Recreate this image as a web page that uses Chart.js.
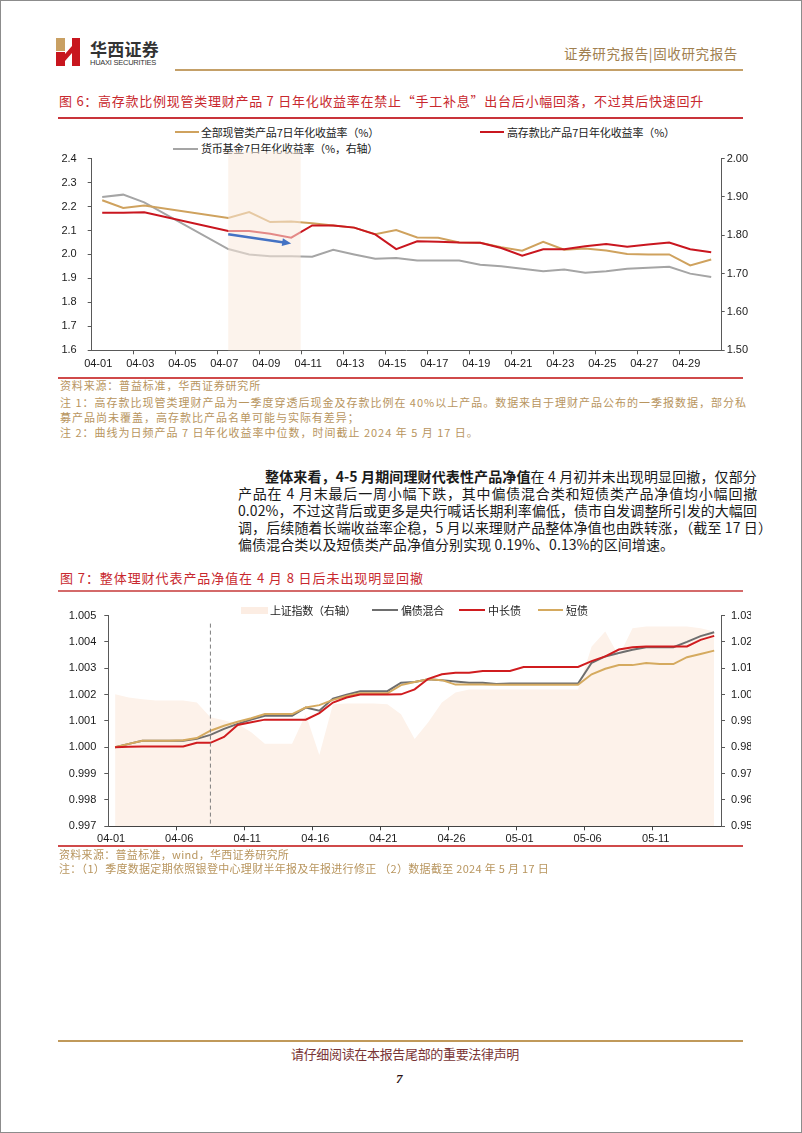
<!DOCTYPE html>
<html lang="zh-CN">
<head>
<meta charset="utf-8">
<title>图6 / 图7</title>
<script src="https://cdn.jsdelivr.net/npm/chart.js@4.4.1/dist/chart.umd.min.js"></script>
<style>
  html, body { margin: 0; padding: 0; background: #fff; }
  #page { position: relative; width: 800px; height: 1131px; border: 1px solid #8c8c8c; overflow: hidden; background: #fff;
          font-family: "Noto Sans CJK SC", "Noto Sans", sans-serif; color: #1a1a1a; }
  .t { position: absolute; white-space: nowrap; display: inline-block; line-height: 1; }
  .rule { position: absolute; }
  canvas { position: absolute; }
  .lg { position: absolute; font-size: 11px; line-height: 1; white-space: nowrap; color: #222; display: inline-block; }
  .sw { position: absolute; height: 2px; }
  .note { color: #b8955e; font-size: 11px; }
  .body { font-size: 14px; color: #1a1a1a; }
</style>
</head>
<body>
<div id="page">
  <!-- header -->
  <svg style="position:absolute;left:54px;top:36px" width="28" height="31" viewBox="54 36 28 31">
    <rect x="55" y="37" width="9" height="13" fill="#c9a063"/>
    <rect x="55" y="51" width="9" height="14" fill="#c8161e"/>
    <polygon points="64,53 71,45 71,52 64,60" fill="#c8161e"/>
    <rect x="71" y="37" width="8" height="28" fill="#c8161e"/>
  </svg>
  <div class="t" data-w="69" style="left:89px;top:39px;font-size:17px;font-weight:700;color:#333">华西证券</div>
  <div class="t" data-w="66" style="left:89px;top:58px;font-size:7.5px;font-family:'Liberation Sans',Arial;color:#333">HUAXI SECURITIES</div>
  <div class="t" data-w="174" style="left:563px;top:46px;font-size:13.5px;color:#a08050">证券研究报告|固收研究报告</div>
  <div class="rule" style="left:174px;top:68px;width:568px;height:2px;background:#c4a068"></div>

  <!-- figure 6 -->
  <div class="t" data-w="645" style="left:58px;top:93px;font-size:13px;color:#c8282e">图 6：高存款比例现管类理财产品 7 日年化收益率在禁止“手工补息”出台后小幅回落，不过其后快速回升</div>
  <div class="rule" style="left:57px;top:116px;width:685px;height:2px;background:#c9343a"></div>

  <div class="sw" style="left:174px;top:130px;width:24px;background:#cfa25e"></div>
  <div class="lg" data-w="178" style="left:200px;top:125.5px">全部现管类产品7日年化收益率（%）</div>
  <div class="sw" style="left:479px;top:130px;width:24px;background:#c9161f"></div>
  <div class="lg" data-w="168" style="left:506px;top:125.5px">高存款比产品7日年化收益率（%）</div>
  <div class="sw" style="left:172px;top:146.5px;width:25px;background:#a5a5a5"></div>
  <div class="lg" data-w="177" style="left:200px;top:142px">货币基金7日年化收益率（%，右轴）</div>

  <canvas id="chart6" width="700" height="230" style="left:50px;top:140px"></canvas>

  <div class="rule" style="left:57px;top:376px;width:685px;height:1.5px;background:#d04a4a"></div>
  <div class="t note" data-w="201" style="left:59px;top:379px">资料来源：普益标准，华西证券研究所</div>
  <div class="t note" id="n2" data-w="687" style="left:59px;top:396px">注 1：高存款比现管类理财产品为一季度穿透后现金及存款比例在 40%以上产品。数据来自于理财产品公布的一季报数据，部分私</div>
  <div class="t note" data-ls="n2" style="left:59px;top:411px">募产品尚未覆盖，高存款比产品名单可能与实际有差异；</div>
  <div class="t note" data-ls="n2" style="left:59px;top:426px">注 2：曲线为日频产品 7 日年化收益率中位数，时间截止 2024 年 5 月 17 日。</div>

  <!-- body text -->
  <div class="t body" data-w="492" style="left:264px;top:468px"><b>整体来看，4-5 月期间理财代表性产品净值</b>在 4 月初并未出现明显回撤，仅部分</div>
  <div class="t body" data-w="520" style="left:237px;top:485px">产品在 4 月末最后一周小幅下跌，其中偏债混合类和短债类产品净值均小幅回撤</div>
  <div class="t body" id="l3" data-w="519" style="left:237px;top:502px">0.02%，不过这背后或更多是央行喊话长期利率偏低，债市自发调整所引发的大幅回</div>
  <div class="t body" data-w="534" style="left:237px;top:519px">调，后续随着长端收益率企稳，5 月以来理财产品整体净值也由跌转涨，（截至 17 日）</div>
  <div class="t body" data-ls="l3" style="left:237px;top:536px">偏债混合类以及短债类产品净值分别实现 0.19%、0.13%的区间增速。</div>

  <!-- figure 7 -->
  <div class="t" data-w="364" style="left:59px;top:570px;font-size:13px;color:#c8282e">图 7：整体理财代表产品净值在 4 月 8 日后未出现明显回撤</div>
  <div class="rule" style="left:57px;top:589px;width:685px;height:1.5px;background:#d46a6a"></div>

  <canvas id="chart7" width="700" height="245" style="left:50px;top:600px"></canvas>

  <div class="sw" style="left:240px;top:606px;width:27px;height:7px;background:#fcede3"></div>
  <div class="lg" data-w="86" style="left:269px;top:603.5px">上证指数（右轴）</div>
  <div class="sw" style="left:371px;top:608px;width:26px;background:#6e6e6e"></div>
  <div class="lg" data-w="43" style="left:400px;top:603.5px">偏债混合</div>
  <div class="sw" style="left:458px;top:608px;width:26px;background:#d01c1f"></div>
  <div class="lg" data-w="33" style="left:487px;top:603.5px">中长债</div>
  <div class="sw" style="left:537px;top:608px;width:25px;background:#d5aa5f"></div>
  <div class="lg" data-w="22" style="left:565px;top:603.5px">短债</div>

  <div class="rule" style="left:57px;top:844px;width:685px;height:1.5px;background:#d04a4a"></div>
  <div class="t note" data-ls="n7" style="left:58px;top:848px">资料来源：普益标准，wind，华西证券研究所</div>
  <div class="t note" id="n7" data-w="490" style="left:58px;top:862px">注：（1）季度数据定期依照银登中心理财半年报及年报进行修正 （2）数据截至 2024 年 5 月 17 日</div>

  <!-- footer -->
  <div class="rule" style="left:57px;top:1039px;width:685px;height:2px;background:#c0995a"></div>
  <div class="t" data-w="228" style="left:290px;top:1046px;font-size:13px;color:#7a3535">请仔细阅读在本报告尾部的重要法律声明</div>
  <div class="t" style="left:395px;top:1071px;font-size:13px;font-weight:700;font-style:italic;color:#2a1010;font-family:'Liberation Serif',serif">7</div>
</div>

<script>
// ---- figure 6 data ----
const days1 = ['04-01', '04-02', '04-03', '04-04', '04-05', '04-06', '04-07', '04-08', '04-09', '04-10',
  '04-11', '04-12', '04-13', '04-14', '04-15', '04-16', '04-17', '04-18', '04-19', '04-20',
  '04-21', '04-22', '04-23', '04-24', '04-25', '04-26', '04-27', '04-28', '04-29', '04-30'];
const allMgmtYield = [2.226, 2.194, 2.204, null, null, null, 2.152, 2.177, 2.135, 2.138,
  2.130, 2.121, 2.112, 2.084, 2.102, 2.071, 2.070, 2.050, 2.049, 2.030,
  2.016, 2.053, 2.020, 2.025, 2.016, 2.002, 2.000, 2.000, 1.954, 1.979];
const highDepositYield = [2.174, 2.174, 2.176, null, null, null, 2.098, 2.098, 2.086, 2.070,
  2.121, 2.121, 2.112, 2.084, 2.022, 2.055, 2.053, 2.050, 2.049, 2.027,
  1.995, 2.022, 2.022, 2.034, 2.044, 2.032, 2.042, 2.050, 2.022, 2.009];
const moneyFundYield = [1.900, 1.906, 1.886, null, null, null, 1.764, 1.750, 1.745, 1.745,
  1.744, 1.762, 1.750, 1.739, 1.741, 1.734, 1.734, 1.734, 1.723, 1.719,
  1.713, 1.706, 1.711, 1.702, 1.706, 1.713, 1.715, 1.718, 1.700, 1.691];
const leftTicks6 = [1.6, 1.7, 1.8, 1.9, 2.0, 2.1, 2.2, 2.3, 2.4];
const rightTicks6 = [1.5, 1.6, 1.7, 1.8, 1.9, 2.0];
const bandRange = ['04-07', '04-10'];
const arrowFrom = ['04-07', 2.084];
const arrowTo = ['04-10', 2.046];

// ---- figure 7 data ----
const days2 = ['04-01', '04-02', '04-03', '04-04', '04-05', '04-06', '04-07', '04-08', '04-09', '04-10',
  '04-11', '04-12', '04-13', '04-14', '04-15', '04-16', '04-17', '04-18', '04-19', '04-20',
  '04-21', '04-22', '04-23', '04-24', '04-25', '04-26', '04-27', '04-28', '04-29', '04-30',
  '05-01', '05-02', '05-03', '05-04', '05-05', '05-06', '05-07', '05-08', '05-09', '05-10',
  '05-11', '05-12', '05-13', '05-14', '05-15'];
const shIndex = [1.0001, 0.9989, 0.9982, 0.9978, 0.9978, 0.9978, 0.9970, 0.9914, 0.9903, 0.9888,
  0.9857, 0.9813, 0.9813, 0.9813, 0.9925, 0.9771, 0.9963, 0.9966, 0.9966, 0.9966,
  0.9963, 0.9925, 0.9831, 0.9895, 0.9970, 1.0008, 1.0019, 1.0019, 1.0019, 1.0019,
  1.0019, 1.0019, 1.0019, 1.0019, 1.0019, 1.0183, 1.0240, 1.0146, 1.0252, 1.0259,
  1.0259, 1.0259, 1.0259, 1.0252, 1.0240];
const mixedBond = [1.00000, 1.00013, 1.00025, 1.00025, 1.00025, 1.00025, 1.00032, 1.00047, 1.00070, 1.00089,
  1.00105, 1.00120, 1.00120, 1.00120, 1.00151, 1.00139, 1.00185, 1.00200, 1.00213, 1.00213,
  1.00213, 1.00245, 1.00248, 1.00258, 1.00255, 1.00250, 1.00245, 1.00245, 1.00240, 1.00242,
  1.00242, 1.00242, 1.00242, 1.00242, 1.00242, 1.00321, 1.00345, 1.00358, 1.00370, 1.00380,
  1.00380, 1.00380, 1.00400, 1.00422, 1.00437];
const midLongBond = [1.00000, 1.00002, 1.00003, 1.00003, 1.00003, 1.00003, 1.00017, 1.00017, 1.00039, 1.00085,
  1.00095, 1.00105, 1.00105, 1.00105, 1.00105, 1.00130, 1.00170, 1.00189, 1.00200, 1.00200,
  1.00200, 1.00201, 1.00220, 1.00260, 1.00277, 1.00283, 1.00283, 1.00290, 1.00290, 1.00290,
  1.00305, 1.00305, 1.00305, 1.00305, 1.00305, 1.00327, 1.00345, 1.00371, 1.00380, 1.00383,
  1.00383, 1.00383, 1.00383, 1.00408, 1.00423];
const shortBond = [1.00000, 1.00013, 1.00025, 1.00025, 1.00025, 1.00027, 1.00035, 1.00063, 1.00082, 1.00097,
  1.00110, 1.00126, 1.00126, 1.00126, 1.00151, 1.00160, 1.00180, 1.00195, 1.00205, 1.00205,
  1.00205, 1.00236, 1.00248, 1.00258, 1.00255, 1.00238, 1.00238, 1.00238, 1.00237, 1.00237,
  1.00237, 1.00237, 1.00237, 1.00237, 1.00237, 1.00277, 1.00298, 1.00312, 1.00312, 1.00320,
  1.00316, 1.00316, 1.00342, 1.00354, 1.00367];
const leftTicks7 = [0.997, 0.998, 0.999, 1.000, 1.001, 1.002, 1.003, 1.004, 1.005];
const rightTicks7 = [0.95, 0.96, 0.97, 0.98, 0.99, 1.00, 1.01, 1.02, 1.03];
const markerDay = '04-08';

const axisColor = '#595959';
const hidden = 'rgba(0,0,0,0)';
const narrowFont = { family: "'Liberation Sans Narrow', 'Liberation Sans', Arial", size: 11 };
const tickFont = { family: "'Liberation Sans', Arial", size: 11 };

function fixedTicks(values, digits) {
  return {
    afterBuildTicks: (scale) => { scale.ticks = values.map((v) => ({ value: v })); },
    callback: (v) => Number(v).toFixed(digits),
  };
}

function yAxis(pos, values, digits, font, tickLen, pad, width) {
  const fx = fixedTicks(values, digits);
  return {
    position: pos,
    min: values[0],
    max: values[values.length - 1],
    afterBuildTicks: fx.afterBuildTicks,
    afterFit: (s) => { s.width = width; },
    grid: { drawOnChartArea: false, tickLength: tickLen, color: axisColor },
    border: { color: axisColor },
    ticks: { callback: fx.callback, font: font, color: '#1a1a1a', padding: pad },
  };
}

const highlightPlugin = {
  id: 'highlight',
  afterDatasetsDraw(chart) {
    const { ctx, chartArea, scales } = chart;
    const x = scales.x;
    const step = x.getPixelForValue(1) - x.getPixelForValue(0);
    const x0 = x.getPixelForValue(days1.indexOf(bandRange[0]));
    const x1 = x.getPixelForValue(days1.indexOf(bandRange[1])) + step * 0.45;
    ctx.save();
    ctx.fillStyle = 'rgba(250, 234, 220, 0.55)';
    ctx.fillRect(x0, chartArea.top - 7, x1 - x0, chartArea.bottom - chartArea.top + 7);

    // blue arrow
    const ax0 = x.getPixelForValue(days1.indexOf(arrowFrom[0]));
    const ay0 = scales.y.getPixelForValue(arrowFrom[1]);
    const ax1 = x.getPixelForValue(days1.indexOf(arrowTo[0]));
    const ay1 = scales.y.getPixelForValue(arrowTo[1]);
    const ang = Math.atan2(ay1 - ay0, ax1 - ax0);
    const head = 9;
    ctx.strokeStyle = '#4472c4';
    ctx.fillStyle = '#4472c4';
    ctx.lineWidth = 2.5;
    ctx.beginPath();
    ctx.moveTo(ax0, ay0);
    ctx.lineTo(ax1 - head * 0.8 * Math.cos(ang), ay1 - head * 0.8 * Math.sin(ang));
    ctx.stroke();
    ctx.beginPath();
    ctx.moveTo(ax1, ay1);
    ctx.lineTo(ax1 - head * Math.cos(ang) + 4 * Math.sin(ang), ay1 - head * Math.sin(ang) - 4 * Math.cos(ang));
    ctx.lineTo(ax1 - head * Math.cos(ang) - 4 * Math.sin(ang), ay1 - head * Math.sin(ang) + 4 * Math.cos(ang));
    ctx.closePath();
    ctx.fill();
    ctx.restore();
  },
};

const markerPlugin = {
  id: 'marker',
  afterDatasetsDraw(chart) {
    const { ctx, chartArea, scales } = chart;
    const px = scales.x.getPixelForValue(days2.indexOf(markerDay));
    ctx.save();
    ctx.strokeStyle = '#7f7f7f';
    ctx.lineWidth = 1;
    ctx.setLineDash([4, 3]);
    ctx.beginPath();
    ctx.moveTo(px, chartArea.top + 8);
    ctx.lineTo(px, chartArea.bottom);
    ctx.stroke();
    ctx.restore();
  },
};

function lineSet(label, data, color, axis, order) {
  return {
    label: label, data: data, borderColor: color, backgroundColor: color, yAxisID: axis, order: order,
    borderWidth: 2, pointRadius: 0, tension: 0, fill: false, spanGaps: true,
  };
}

new Chart(document.getElementById('chart6'), {
  type: 'line',
  data: {
    labels: days1,
    datasets: [
      lineSet('高存款比产品7日年化收益率（%）', highDepositYield, '#c9161f', 'y', 1),
      lineSet('全部现管类产品7日年化收益率（%）', allMgmtYield, '#cfa25e', 'y', 2),
      lineSet('货币基金7日年化收益率（%，右轴）', moneyFundYield, '#a5a5a5', 'y1', 3),
    ],
  },
  options: {
    responsive: false,
    animation: false,
    devicePixelRatio: 1,
    layout: { padding: { top: 15, left: 0, right: 0, bottom: 0 } },
    plugins: { legend: { display: false }, tooltip: { enabled: false } },
    scales: {
      x: {
        offset: true,
        afterFit: (s) => { s.height = 20.7; },
        grid: {
          offset: true, drawOnChartArea: false, tickLength: 4,
          color: (c) => (c.index > 0 && c.index % 2 === 0 ? axisColor : hidden),
        },
        border: { color: axisColor },
        ticks: {
          autoSkip: false, maxRotation: 0, minRotation: 0, labelOffset: -4, padding: 3,
          font: narrowFont, color: '#1a1a1a',
          callback: (v, i) => (i % 2 === 0 ? days1[i] : ''),
        },
      },
      y: yAxis('left', leftTicks6, 1, narrowFont, 4, 11, 40.7),
      y1: yAxis('right', rightTicks6, 2, narrowFont, 3, 2, 29.3),
    },
  },
  plugins: [highlightPlugin],
});

const shArea = {
  label: '上证指数（右轴）', data: shIndex, yAxisID: 'y1', order: 10,
  fill: 'start', backgroundColor: '#fdf2ea', borderColor: hidden, borderWidth: 0,
  pointRadius: 0, tension: 0,
};

new Chart(document.getElementById('chart7'), {
  type: 'line',
  data: {
    labels: days2,
    datasets: [
      shArea,
      lineSet('偏债混合', mixedBond, '#6e6e6e', 'y', 3),
      lineSet('中长债', midLongBond, '#d01c1f', 'y', 1),
      lineSet('短债', shortBond, '#d5aa5f', 'y', 2),
    ],
  },
  options: {
    responsive: false,
    animation: false,
    devicePixelRatio: 1,
    layout: { padding: { top: 12.3, left: 0, right: 0, bottom: 0 } },
    plugins: { legend: { display: false }, tooltip: { enabled: false } },
    scales: {
      x: {
        offset: true,
        afterFit: (s) => { s.height = 19.7; },
        grid: {
          offset: true, drawOnChartArea: false, tickLength: 4,
          color: (c) => (c.index > 0 && c.index % 5 === 0 ? '#404040' : hidden),
        },
        border: { color: '#404040' },
        ticks: {
          autoSkip: false, maxRotation: 0, minRotation: 0, labelOffset: -4, padding: 2,
          font: tickFont, color: '#1a1a1a',
          callback: (v, i) => (i % 5 === 0 ? days2[i] : ''),
        },
      },
      y: yAxis('left', leftTicks7, 3, tickFont, 4, 8, 57.3),
      y1: yAxis('right', rightTicks7, 2, tickFont, 4, 6, 30),
    },
  },
  plugins: [markerPlugin],
});

// stretch text lines to the widths they have in the report
function fitText() {
  document.querySelectorAll('[data-w]').forEach((el) => {
    el.style.letterSpacing = '0px';
    const w = el.getBoundingClientRect().width;
    const n = [...el.textContent].length;
    el.style.letterSpacing = ((Number(el.dataset.w) - w) / n).toFixed(3) + 'px';
  });
  document.querySelectorAll('[data-ls]').forEach((el) => {
    el.style.letterSpacing = document.getElementById(el.dataset.ls).style.letterSpacing;
  });
}
fitText();
if (document.fonts && document.fonts.ready) document.fonts.ready.then(fitText);
</script>
</body>
</html>
